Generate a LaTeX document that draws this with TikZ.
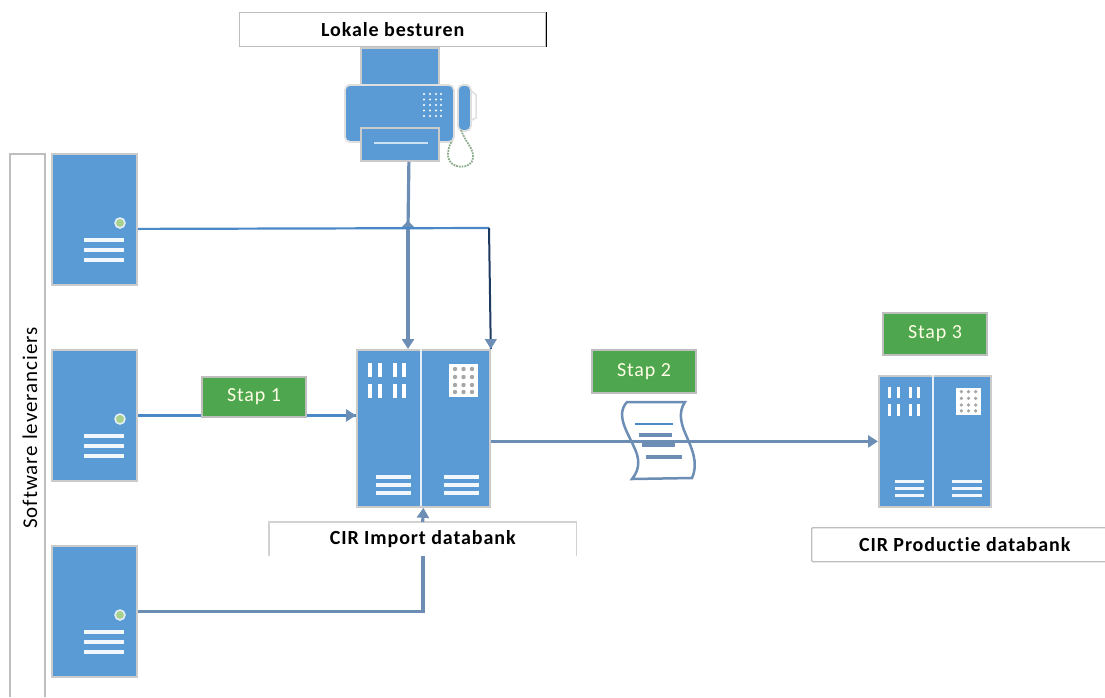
\documentclass[tikz,border=0pt]{standalone}
\usepackage{fontspec}
\setmainfont{Carlito}
\newfontfamily\spacedfont[LetterSpace=4.5,Ligatures=NoCommon]{Carlito}
\usetikzlibrary{calc}
\usetikzlibrary{arrows.meta}
\definecolor{iconblue}{HTML}{5B9BD5}
\definecolor{stapgreen}{HTML}{4EA64E}
\definecolor{edgegray}{HTML}{BEBEBE}
\definecolor{flowblue}{HTML}{6C8EB4}
\definecolor{thinblue}{HTML}{4A88C7}
\definecolor{darkflow}{HTML}{1F3A60}
\definecolor{ledgreen}{HTML}{A9D18E}
\tikzset{
    >={Triangle[length=10pt,width=12pt]},
    labelbox/.style={draw=edgegray, line width=1.4pt, fill=white, inner sep=0pt, anchor=north west, font=\fontsize{20}{22}\spacedfont\bfseries},
    stapbox/.style={draw=edgegray, line width=2pt, fill=stapgreen, inner sep=0pt, anchor=north west, minimum width=104pt, text=white!90!yellow, font=\fontsize{20}{22}\spacedfont},
    iconbox/.style={draw=edgegray!80, line width=1.8pt, fill=iconblue, inner sep=0pt, anchor=north west},
    markline/.style={white!92!iconblue, line width=3.2pt},
    flow/.style={flowblue, line width=3.2pt},
    thinflow/.style={thinblue, line width=2.2pt}
}
% marks on a server, from its top left corner
\newcommand{\servermarks}{
    \filldraw[fill=ledgreen, draw=white!85!iconblue, line width=1.5pt] (69,70) circle (5pt);
    \foreach \y in {87,97,107} {
        \draw[markline] (33,\y) -- (73,\y);
    }
}
% marks on a double cabinet, from its top left corner
\newcommand{\cabinetmarks}{
    \draw[white!85!iconblue, line width=2pt] (65,0) -- (65,157);
    \foreach \x in {14,24,38.5,48} {
        \foreach \y in {14,35} {
            \fill[white] (\x-2,\y) rectangle (\x+2,\y+14);
        }
    }
    \fill[white] (93,15) rectangle (122,48);
    \foreach \x in {99,107.5,116} {
        \foreach \y in {20,28,36,43} {
            \fill[gray!70] (\x,\y) circle (2.2pt);
        }
    }
    \foreach \y in {128,136,144} {
        \draw[markline] (20,\y) -- (55,\y);
        \draw[markline] (88,\y) -- (123,\y);
    }
}
\begin{document}
\begin{tikzpicture}[x=1pt,y=-1pt]
    \useasboundingbox (0,0) rectangle (1105,697);

    % Software suppliers
    \draw[edgegray, line width=2pt] (10,697) -- (10,154) -- (45,154) -- (45,697);
    \node[rotate=90, font=\fontsize{21}{22}\spacedfont] (suppliers) at (30,428) {Software leveranciers};

    \node[iconbox, minimum width=85pt, minimum height=131pt] (server1) at (51,153) {};
    \node[iconbox, minimum width=85pt, minimum height=131pt] (server2) at (51,349) {};
    \node[iconbox, minimum width=85pt, minimum height=131pt] (server3) at (51,545) {};
    \foreach \y in {153,349,545} {
        \begin{scope}[shift={(51,\y)}]
            \servermarks
        \end{scope}
    }

    % Databases
    \node[iconbox, minimum width=133pt, minimum height=157pt] (importdb) at (356,349) {};
    \node[iconbox, minimum width=112pt, minimum height=131pt] (productiondb) at (878,375) {};
    \begin{scope}[shift={(356,349)}]
        \cabinetmarks
    \end{scope}
    \begin{scope}[shift={(878,375)}, xscale=0.842, yscale=0.834]
        \cabinetmarks
    \end{scope}

    % Fax of the local authorities
    \node[iconbox, minimum width=78pt, minimum height=37pt] (faxpaper) at (360,47) {};
    \node[iconbox, draw=edgegray!50, rounded corners=5pt, minimum width=109pt, minimum height=57pt] (faxbody) at (344,84) {};
    \node[iconbox, minimum width=78pt, minimum height=33pt] (faxtray) at (360,127) {};
    \draw[white!70!iconblue, line width=2.5pt] (374,143) -- (428,143);
    \foreach \x in {424,430,436,441} {
        \foreach \y in {94,99.5,105,110.5,116} {
            \fill[white] (\x,\y) circle (1.2pt);
        }
    }
    \draw[edgegray!50, line width=1.5pt, fill=white] (468,88) -- (476,95) -- (476,118) -- (468,122);
    \node[iconbox, draw=edgegray!50, rounded corners=5pt, minimum width=13pt, minimum height=46pt] (faxphone) at (457,84) {};
    \draw[edgegray!80!green!60!gray, line width=1.8pt, densely dotted] (461,130) .. controls (465,142) and (474,148) .. (473,158) .. controls (472,170) and (449,170) .. (448,156) .. controls (448,148) and (450,144) .. (452,141);

    % Connectors
    \coordinate (faxjoin) at (408,228);
    \coordinate (supplycorner) at (489,228);
    \draw[flow] ([xshift=9pt]faxtray.south) -- (faxjoin);
    \draw[flow, -{Triangle[length=6pt,width=12pt]}] (faxjoin) -- ++(0,-7);
    \draw[flow, ->] (faxjoin) -- (faxjoin |- importdb.north);
    \draw[thinflow] ([yshift=-9.5pt]server1.east) -- (supplycorner);
    \draw[darkflow, line width=2pt] (supplycorner) -- (importdb.north east);
    \draw[flowblue, line width=1pt, ->] ([yshift=10pt]importdb.north east) -- (importdb.north east);
    \draw[thinflow] (server2.east) -- (server2.east -| importdb.west);
    \draw[flow, ->] ([xshift=-10pt]server2.east -| importdb.west) -- (server2.east -| importdb.west);
    \draw[flow] (server3.east) -| (423,555);

    % Document on its way to production
    \draw[flowblue, line width=2.5pt, fill=white] (627,402) -- (685,402) .. controls (678,412) and (681,424) .. (686,435) .. controls (691,447) and (699,462) .. (692,478) -- (632,479) .. controls (641,468) and (639,457) .. (634,447) .. controls (628,433) and (615,415) .. (627,402) -- cycle;
    \draw[thinflow] (635,424) -- (673,424);
    \draw[flow] (639,435) -- (672,435);
    \draw[flow] (642,445) -- (675,445);
    \draw[flow] (646,457) -- (682,457);
    \draw[flow, ->] (importdb.east |- productiondb.west) -- (productiondb.west);

    % Labels
    \node[labelbox, minimum width=306pt, minimum height=34pt] (locallabel) at (239,12) {Lokale besturen};
    \draw[black, line width=1.5pt] (locallabel.north east) -- (locallabel.south east);
    \node[labelbox, draw=none, minimum width=306pt, minimum height=33pt] (importlabel) at (269,522) {CIR Import databank};
    \draw[edgegray!70, line width=1.2pt] (importlabel.south west) -- (importlabel.north west) -- (importlabel.north east) -- (importlabel.south east);
    \node[labelbox, rounded corners=1pt, minimum width=306pt, minimum height=34pt] (productionlabel) at (811,527) {CIR Productie databank};
    \draw[flow, ->] (importlabel.north) -- (importdb.south);

    \node[stapbox, minimum height=40pt] (stap1) at (201,376) {Stap 1};
    \node[stapbox, minimum height=43pt] (stap2) at (591,349) {Stap 2};
    \node[stapbox, minimum height=42pt] (stap3) at (882,312) {Stap 3};
\end{tikzpicture}
\end{document}
